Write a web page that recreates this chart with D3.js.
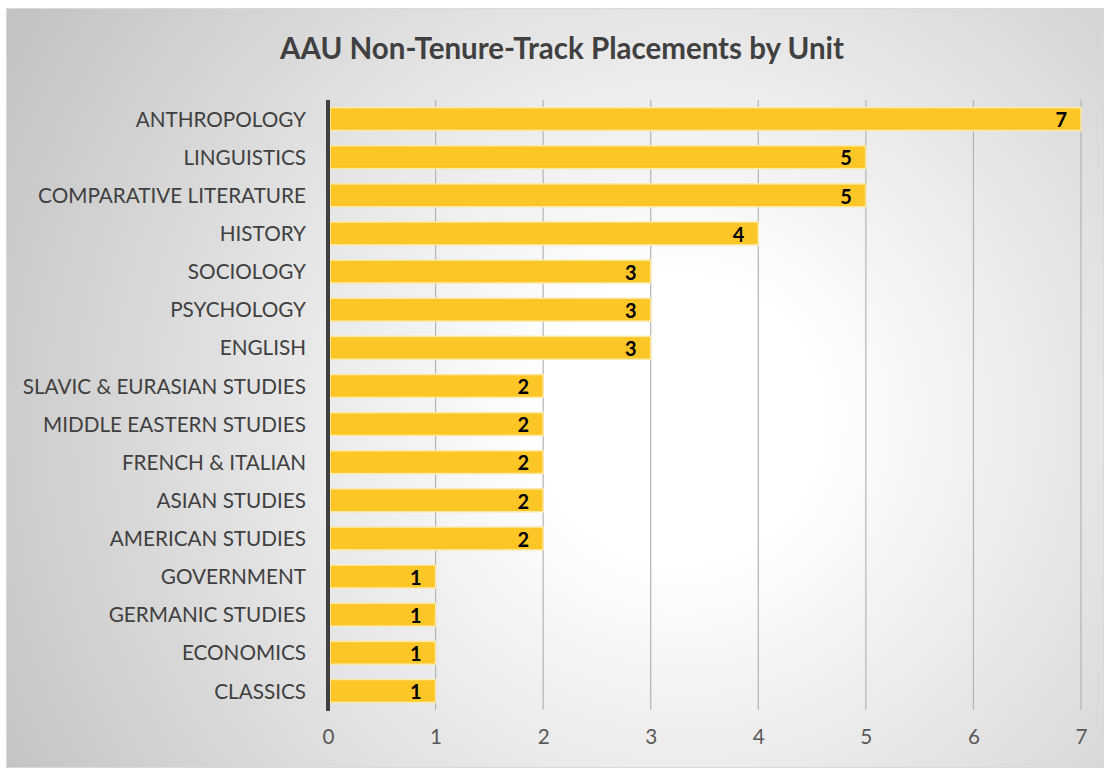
<!DOCTYPE html>
<html>
<head>
<meta charset="utf-8">
<script src="https://cdn.jsdelivr.net/npm/d3@7"></script>
<style>
  body { margin: 0; background: #fff; }
  svg { display: block; font-family: Lato, "Open Sans", sans-serif; }
</style>
</head>
<body>
<svg id="chart" width="1104" height="768"></svg>
<script>
const units = ['ANTHROPOLOGY', 'LINGUISTICS', 'COMPARATIVE LITERATURE', 'HISTORY', 'SOCIOLOGY',
  'PSYCHOLOGY', 'ENGLISH', 'SLAVIC & EURASIAN STUDIES', 'MIDDLE EASTERN STUDIES', 'FRENCH & ITALIAN',
  'ASIAN STUDIES', 'AMERICAN STUDIES', 'GOVERNMENT', 'GERMANIC STUDIES', 'ECONOMICS', 'CLASSICS'];
const placements = [7, 5, 5, 4, 3, 3, 3, 2, 2, 2, 2, 2, 1, 1, 1, 1];
const xTicks = [0, 1, 2, 3, 4, 5, 6, 7];

const svg = d3.select('#chart');

// background panel with radial shading
const defs = svg.append('defs');
const grad = defs.append('radialGradient')
  .attr('id', 'bg')
  .attr('gradientUnits', 'userSpaceOnUse')
  .attr('cx', 680).attr('cy', 420).attr('r', 780);
grad.append('stop').attr('offset', '0%').attr('stop-color', '#ffffff');
grad.append('stop').attr('offset', '18%').attr('stop-color', '#ffffff');
grad.append('stop').attr('offset', '100%').attr('stop-color', '#c2c2c2');

svg.append('rect')
  .attr('x', 6.5).attr('y', 8.5)
  .attr('width', 1097).attr('height', 759)
  .attr('fill', 'url(#bg)')
  .attr('stroke', '#d9d9d9');

svg.append('text')
  .attr('x', 562).attr('y', 59)
  .attr('text-anchor', 'middle')
  .attr('font-size', 29.5).attr('font-weight', 'bold')
  .attr('fill', '#404040')
  .text('AAU Non-Tenure-Track Placements by Unit');

const x = d3.scaleLinear().domain([0, 7]).range([328, 1081]);
const y = d3.scaleBand().domain(units).range([100, 710]).paddingInner(0.4).paddingOuter(0.2);

// gridlines
svg.append('g')
  .selectAll('line')
  .data(xTicks.slice(1))
  .join('line')
  .attr('x1', d => x(d)).attr('x2', d => x(d))
  .attr('y1', 100).attr('y2', 710)
  .attr('stroke', '#b4b4b4').attr('stroke-width', 1.2);

// bars
svg.append('g')
  .selectAll('rect')
  .data(placements)
  .join('rect')
  .attr('x', x(0) + 2)
  .attr('y', (d, i) => y(units[i]))
  .attr('width', d => x(d) - x(0) - 2)
  .attr('height', y.bandwidth())
  .attr('fill', '#fdc627')
  .attr('stroke', '#fde9a8').attr('stroke-width', 1.5);

// value labels
svg.append('g')
  .selectAll('text')
  .data(placements)
  .join('text')
  .attr('x', d => x(d) - 14)
  .attr('y', (d, i) => y(units[i]) + y.bandwidth() / 2 + 1)
  .attr('dy', '0.36em')
  .attr('text-anchor', 'end')
  .attr('font-size', 20).attr('font-weight', 'bold')
  .attr('fill', '#000')
  .text(d => d);

// y axis line and labels
svg.append('line')
  .attr('x1', x(0)).attr('x2', x(0))
  .attr('y1', 100).attr('y2', 711)
  .attr('stroke', '#404040').attr('stroke-width', 4);

const yAxis = svg.append('g')
  .attr('transform', `translate(${x(0) - 22},1)`)
  .call(d3.axisLeft(y).tickSize(0).tickPadding(0));
yAxis.select('.domain').remove();
yAxis.selectAll('text')
  .attr('font-size', 20.7).attr('fill', '#404040')
  .attr('font-family', 'Lato, "Open Sans", sans-serif');

// x axis labels
const xAxis = svg.append('g')
  .attr('transform', 'translate(0,729)')
  .call(d3.axisBottom(x).tickValues(xTicks).tickFormat(d3.format('d')).tickSize(0).tickPadding(0));
xAxis.select('.domain').remove();
xAxis.selectAll('text')
  .attr('font-size', 20.7).attr('fill', '#595959')
  .attr('font-family', 'Lato, "Open Sans", sans-serif');
</script>
</body>
</html>
